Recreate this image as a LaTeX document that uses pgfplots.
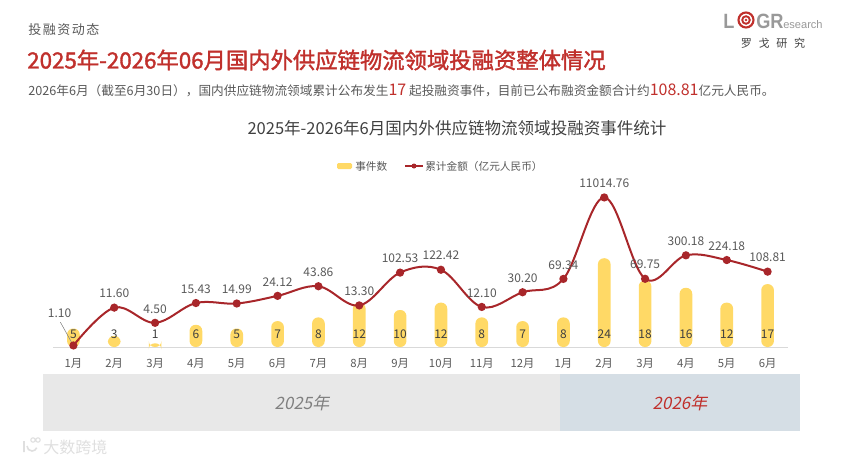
\documentclass[border=0pt]{standalone}
\usepackage{pgfplots}
\pgfplotsset{compat=1.18}
\usepackage{fontspec}
\setmainfont{Noto Sans CJK SC}
\newfontfamily\logofont{Liberation Sans}
\newfontfamily\logobold{Liberation Sans Bold}[FakeStretch=0.88]
\definecolor{titred}{HTML}{C0302C}
\definecolor{linered}{HTML}{A8262A}
\definecolor{baryel}{HTML}{FFD966}
\definecolor{txtgray}{HTML}{595959}
\definecolor{dkgray}{HTML}{404040}
\definecolor{bandgray}{HTML}{E8E8E8}
\definecolor{bandblue}{HTML}{D5DEE5}
\definecolor{logogray}{HTML}{999999}
\begin{document}
\begin{tikzpicture}[x=0.75pt,y=0.75pt]
\path[use as bounding box] (0,0) rectangle (851,462);
% header
\node[anchor=west,inner sep=0,text=txtgray,font=\fontsize{9.75pt}{11pt}\selectfont\addfontfeature{LetterSpace=12}] at (28,432) {投融资动态};
\node[anchor=west,inner sep=0,text=titred,font=\fontsize{16.75pt}{19pt}\selectfont\addfontfeature{FakeBold=1.6}] at (27,402) {2025年-2026年06月国内外供应链物流领域投融资整体情况};
\node[anchor=west,inner sep=0,text=txtgray,font=\fontsize{9.5pt}{11pt}\selectfont] at (28,372) {2026年6月（截至6月30日），国内供应链物流领域累计公布发生{\color{titred}\fontsize{12pt}{12pt}\selectfont 17} 起投融资事件，目前已公布融资金额合计约{\color{titred}\fontsize{12pt}{12pt}\selectfont 108.81}亿元人民币。};
% logo
\node[anchor=base west,inner sep=0,text=logogray,font=\logobold\fontsize{15.5pt}{16pt}\selectfont] at (723,434) {L};
\draw[titred,line width=1.6pt] (746,442) circle[radius=7.5];
\draw[titred,line width=1.4pt] (746,442) circle[radius=3.8];
\fill[titred] (746,442) circle[radius=1.4];
\node[anchor=base west,inner sep=0,text=logogray,font=\logobold\fontsize{15.5pt}{16pt}\selectfont] at (756,434) {GR};
\node[anchor=base west,inner sep=0,text=logogray,font=\logofont\fontsize{8.3pt}{9pt}\selectfont] at (783,434) {esearch};
\node[anchor=center,inner sep=0,text=dkgray,font=\fontsize{8.3pt}{9pt}\selectfont\addfontfeature{LetterSpace=60}] at (773,419) {罗戈研究};
% chart title
\node[anchor=center,inner sep=0,text=dkgray,font=\fontsize{12.4pt}{14pt}\selectfont] at (457,334) {2025年-2026年6月国内外供应链物流领域投融资事件统计};
% legend
\fill[baryel,rounded corners=1pt] (337,293) rectangle (352,299);
\node[anchor=west,inner sep=0,text=txtgray,font=\fontsize{8pt}{9pt}\selectfont] at (355,296) {事件数};
\draw[linered,line width=1.5pt] (405,296) -- (423,296);
\fill[linered] (414,296) circle[radius=2.5];
\node[anchor=west,inner sep=0,text=txtgray,font=\fontsize{8pt}{9pt}\selectfont] at (425,296) {累计金额（亿元人民币）};
% bottom band
\fill[bandgray] (43,88) rectangle (560,31);
\fill[bandblue] (560,88) rectangle (800,31);
\node[text=gray,font=\fontsize{12.75pt}{14pt}\selectfont\addfontfeature{FakeSlant=0.2}] at (302,59) {2025年};
\node[text=titred,font=\fontsize{12.75pt}{14pt}\selectfont\addfontfeature{FakeSlant=0.2}] at (680,59) {2026年};
% watermark
\node[anchor=west,inner sep=0,text=gray!25,font=\fontsize{12pt}{13pt}\selectfont] at (43,15) {大数跨境};
\draw[gray!25,line width=1.2pt] (24,21) -- (24,10) (27,16) arc[start angle=180,end angle=340,radius=5];
\draw[gray!25,line width=0.8pt] (33,22) circle[radius=2.2] (38,22) circle[radius=2.2];
% bars axis
\begin{axis}[
  at={(39.75pt,86.25pt)}, anchor=south west,
  scale only axis, width=551.25pt, height=121.5pt,
  xmin=-0.5, xmax=17.5, ymin=0, ymax=43.8,
  clip=false,
  axis y line=none,
  axis x line*=bottom,
  x axis line style={-, draw=gray!30, line width=0.75pt},
  xtick={0,...,17},
  xticklabels={1月,2月,3月,4月,5月,6月,7月,8月,9月,10月,11月,12月,1月,2月,3月,4月,5月,6月},
  xtick style={draw=none},
  xticklabel style={font=\fontsize{8.5pt}{9pt}\selectfont, text=txtgray, yshift=-5pt},
]
\addplot[ybar, bar width=9.5pt, fill=baryel, draw=none, rounded corners=4.5pt] coordinates {
(0,5) (1,3) (2,1) (3,6) (4,5) (5,7) (6,8) (7,12) (8,10) (9,12) (10,8) (11,7) (12,8) (13,24) (14,18) (15,16) (16,12) (17,17)};
\addplot[draw=none, mark=none, nodes near coords, point meta=explicit symbolic,
  every node near coord/.append style={anchor=center, text=dkgray, font=\fontsize{9pt}{10pt}\selectfont}] coordinates {
(0,3.5)[5] (1,3.5)[3] (2,3.5)[1] (3,3.5)[6] (4,3.5)[5] (5,3.5)[7] (6,3.5)[8] (7,3.5)[12] (8,3.5)[10] (9,3.5)[12] (10,3.5)[8] (11,3.5)[7] (12,3.5)[8] (13,3.5)[24] (14,3.5)[18] (15,3.5)[16] (16,3.5)[12] (17,3.5)[17]};
\end{axis}
% line axis
\begin{axis}[
  at={(39.75pt,86.25pt)}, anchor=south west,
  scale only axis, width=551.25pt, height=121.5pt,
  xmin=-0.5, xmax=17.5, ymode=log, ymin=1, ymax=23900,
  clip=false, hide axis,
]
\addplot[linered, line width=1.5pt, smooth, tension=0.6, mark=*, mark size=2.3pt,
  mark options={fill=linered, draw=linered},
  nodes near coords, point meta=explicit symbolic,
  every node near coord/.append style={anchor=south, inner sep=1pt, yshift=5.5pt, text=txtgray, font=\fontsize{9pt}{10pt}\selectfont}] coordinates {
(0,1.10)[] (1,11.60)[11.60] (2,4.50)[4.50] (3,15.43)[15.43] (4,14.99)[14.99] (5,24.12)[24.12] (6,43.86)[43.86] (7,13.30)[13.30] (8,102.53)[102.53] (9,122.42)[122.42] (10,12.10)[12.10] (11,30.20)[30.20] (12,69.34)[69.34] (13,11014.76)[11014.76] (14,69.75)[69.75] (15,300.18)[300.18] (16,224.18)[224.18] (17,108.81)[108.81]};
\draw[gray, line width=0.4pt] (axis cs:-0.32,4.7) -- (axis cs:-0.03,1.25);
\node[text=txtgray, font=\fontsize{9pt}{10pt}\selectfont, inner sep=0] at (axis cs:-0.34,8.3) {1.10};
\end{axis}
\end{tikzpicture}
\end{document}
